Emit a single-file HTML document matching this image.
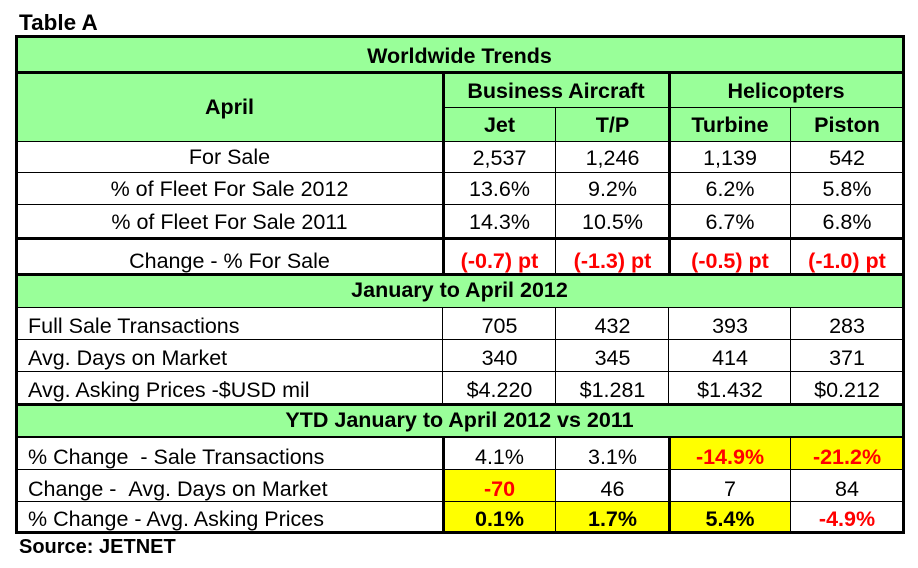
<!DOCTYPE html><html><head><style>
body{margin:0;width:918px;height:568px;background:#fff;position:relative;font-family:"Liberation Sans",Arial,sans-serif;overflow:hidden}
.c{position:absolute;display:flex;align-items:center;justify-content:center;font-size:21.5px;color:#000;box-sizing:border-box;white-space:nowrap}
.g{background:#99ff99}.y{background:#ffff00}.b{font-weight:bold}.r{color:#ff0000;font-weight:bold}
.l{justify-content:flex-start;padding-left:12px}
.h{position:absolute;background:#000}
</style></head><body>
<div class="c b" style="left:19px;top:10px;font-size:22.5px">Table A</div>
<div class="c g b" style="left:16px;top:36px;width:887px;height:106px"></div>
<div class="c g b" style="left:16px;top:274px;width:887px;height:33px">January to April 2012</div>
<div class="c g b" style="left:16px;top:404px;width:887px;height:33px">YTD January to April 2012 vs 2011</div>
<div class="c b" style="left:16px;top:38px;width:887px;height:36px">Worldwide Trends</div>
<div class="c b" style="left:16px;top:73px;width:427px;height:69px">April</div>
<div class="c b" style="left:443px;top:74px;width:226px;height:34px">Business Aircraft</div>
<div class="c b" style="left:669px;top:74px;width:234px;height:34px">Helicopters</div>
<div class="c b" style="left:443px;top:108px;width:113px;height:35px">Jet</div>
<div class="c b" style="left:556px;top:108px;width:113px;height:35px">T/P</div>
<div class="c b" style="left:669px;top:108px;width:122px;height:35px">Turbine</div>
<div class="c b" style="left:791px;top:108px;width:112px;height:35px">Piston</div>
<div class="c y" style="left:669px;top:437px;width:122px;height:33px"></div>
<div class="c y" style="left:791px;top:437px;width:112px;height:33px"></div>
<div class="c y" style="left:443px;top:470px;width:113px;height:32px"></div>
<div class="c y" style="left:443px;top:502px;width:113px;height:30px"></div>
<div class="c y" style="left:556px;top:502px;width:113px;height:30px"></div>
<div class="c y" style="left:669px;top:502px;width:122px;height:30px"></div>
<div class="c" style="left:16px;top:142px;width:427px;height:31px">For Sale</div>
<div class="c" style="left:443px;top:142px;width:113px;height:33px">2,537</div><div class="c" style="left:556px;top:142px;width:113px;height:33px">1,246</div><div class="c" style="left:669px;top:142px;width:122px;height:33px">1,139</div><div class="c" style="left:791px;top:142px;width:112px;height:33px">542</div>
<div class="c" style="left:16px;top:172px;width:427px;height:35px">% of Fleet For Sale 2012</div>
<div class="c" style="left:443px;top:172px;width:113px;height:35px">13.6%</div><div class="c" style="left:556px;top:172px;width:113px;height:35px">9.2%</div><div class="c" style="left:669px;top:172px;width:122px;height:35px">6.2%</div><div class="c" style="left:791px;top:172px;width:112px;height:35px">5.8%</div>
<div class="c" style="left:16px;top:204px;width:427px;height:37px">% of Fleet For Sale 2011</div>
<div class="c" style="left:443px;top:204px;width:113px;height:37px">14.3%</div><div class="c" style="left:556px;top:204px;width:113px;height:37px">10.5%</div><div class="c" style="left:669px;top:204px;width:122px;height:37px">6.7%</div><div class="c" style="left:791px;top:204px;width:112px;height:37px">6.8%</div>
<div class="c" style="left:16px;top:245px;width:427px;height:33px">Change - % For Sale</div>
<div class="c r" style="left:443px;top:245px;width:113px;height:33px">(-0.7) pt</div><div class="c r" style="left:556px;top:245px;width:113px;height:33px">(-1.3) pt</div><div class="c r" style="left:669px;top:245px;width:122px;height:33px">(-0.5) pt</div><div class="c r" style="left:791px;top:245px;width:112px;height:33px">(-1.0) pt</div>
<div class="c l" style="left:16px;top:309px;width:427px;height:34px">Full Sale Transactions</div>
<div class="c" style="left:443px;top:309px;width:113px;height:34px">705</div><div class="c" style="left:556px;top:309px;width:113px;height:34px">432</div><div class="c" style="left:669px;top:309px;width:122px;height:34px">393</div><div class="c" style="left:791px;top:309px;width:112px;height:34px">283</div>
<div class="c l" style="left:16px;top:341px;width:427px;height:34px">Avg. Days on Market</div>
<div class="c" style="left:443px;top:341px;width:113px;height:34px">340</div><div class="c" style="left:556px;top:341px;width:113px;height:34px">345</div><div class="c" style="left:669px;top:341px;width:122px;height:34px">414</div><div class="c" style="left:791px;top:341px;width:112px;height:34px">371</div>
<div class="c l" style="left:16px;top:373px;width:427px;height:34px">Avg. Asking Prices -$USD mil</div>
<div class="c" style="left:443px;top:373px;width:113px;height:34px">$4.220</div><div class="c" style="left:556px;top:373px;width:113px;height:34px">$1.281</div><div class="c" style="left:669px;top:373px;width:122px;height:34px">$1.432</div><div class="c" style="left:791px;top:373px;width:112px;height:34px">$0.212</div>
<div class="c l" style="left:16px;top:440px;width:427px;height:34px">% Change &nbsp;- Sale Transactions</div>
<div class="c" style="left:443px;top:440px;width:113px;height:34px">4.1%</div><div class="c" style="left:556px;top:440px;width:113px;height:34px">3.1%</div><div class="c r" style="left:669px;top:440px;width:122px;height:34px">-14.9%</div><div class="c r" style="left:791px;top:440px;width:112px;height:34px">-21.2%</div>
<div class="c l" style="left:16px;top:472px;width:427px;height:34px">Change - &nbsp;Avg. Days on Market</div>
<div class="c r" style="left:443px;top:472px;width:113px;height:34px">-70</div><div class="c" style="left:556px;top:472px;width:113px;height:34px">46</div><div class="c" style="left:669px;top:472px;width:122px;height:34px">7</div><div class="c" style="left:791px;top:472px;width:112px;height:34px">84</div>
<div class="c l" style="left:16px;top:503px;width:427px;height:32px">% Change - Avg. Asking Prices</div>
<div class="c b" style="left:443px;top:503px;width:113px;height:32px">0.1%</div><div class="c b" style="left:556px;top:503px;width:113px;height:32px">1.7%</div><div class="c b" style="left:669px;top:503px;width:122px;height:32px">5.4%</div><div class="c r" style="left:791px;top:503px;width:112px;height:32px">-4.9%</div>
<div class="c b" style="left:19px;top:536px;height:22px;font-size:20px">Source: JETNET</div>
<div class="h" style="left:15px;top:35px;width:890px;height:3px"></div>
<div class="h" style="left:15px;top:71px;width:890px;height:3px"></div>
<div class="h" style="left:443px;top:107px;width:460px;height:1px"></div>
<div class="h" style="left:15px;top:141px;width:890px;height:1px"></div>
<div class="h" style="left:15px;top:172px;width:890px;height:1px"></div>
<div class="h" style="left:15px;top:204px;width:890px;height:1px"></div>
<div class="h" style="left:15px;top:237px;width:890px;height:3px"></div>
<div class="h" style="left:15px;top:273px;width:890px;height:3px"></div>
<div class="h" style="left:15px;top:307px;width:890px;height:1px"></div>
<div class="h" style="left:15px;top:339px;width:890px;height:1px"></div>
<div class="h" style="left:15px;top:371px;width:890px;height:1px"></div>
<div class="h" style="left:15px;top:403px;width:890px;height:3px"></div>
<div class="h" style="left:15px;top:436px;width:890px;height:2px"></div>
<div class="h" style="left:15px;top:469px;width:890px;height:1px"></div>
<div class="h" style="left:15px;top:501px;width:890px;height:1px"></div>
<div class="h" style="left:15px;top:531px;width:890px;height:3px"></div>
<div class="h" style="left:15px;top:35px;width:3px;height:499px"></div>
<div class="h" style="left:902px;top:35px;width:3px;height:499px"></div>
<div class="h" style="left:442px;top:73px;width:3px;height:202px"></div>
<div class="h" style="left:442px;top:307px;width:1px;height:97px"></div>
<div class="h" style="left:442px;top:437px;width:3px;height:96px"></div>
<div class="h" style="left:555px;top:107px;width:1px;height:167px"></div>
<div class="h" style="left:555px;top:307px;width:1px;height:97px"></div>
<div class="h" style="left:555px;top:437px;width:1px;height:96px"></div>
<div class="h" style="left:668px;top:73px;width:3px;height:202px"></div>
<div class="h" style="left:668px;top:307px;width:1px;height:97px"></div>
<div class="h" style="left:668px;top:437px;width:3px;height:96px"></div>
<div class="h" style="left:790px;top:107px;width:1px;height:167px"></div>
<div class="h" style="left:790px;top:307px;width:1px;height:97px"></div>
<div class="h" style="left:790px;top:437px;width:1px;height:96px"></div>
</body></html>
